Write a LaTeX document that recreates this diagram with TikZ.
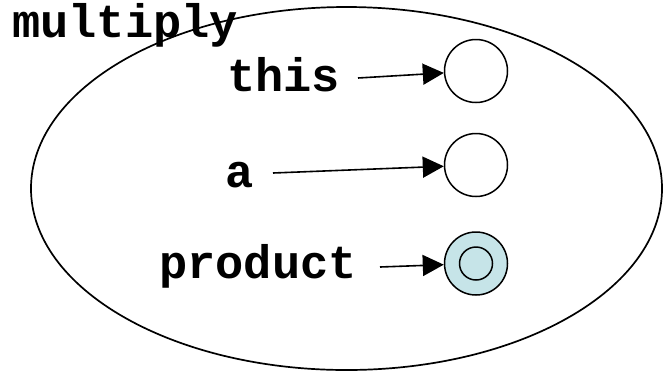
\documentclass[tikz,border=0pt]{standalone}
\usepackage{fontspec}
\setmonofont{Liberation Mono}
\usetikzlibrary{arrows.meta}
\definecolor{prodfill}{HTML}{C6E4E8}
\begin{document}
\begin{tikzpicture}[x=1pt,y=-1pt,
  lbl/.style={font=\ttfamily\bfseries\fontsize{47}{47}\selectfont, inner sep=0pt, anchor=base west},
  var/.style={circle, draw=black, line width=1.5pt, minimum size=63pt, inner sep=0pt},
  arr/.style={line width=1.6pt, -{Triangle[length=21pt,width=21pt]}}]
\useasboundingbox (0,0) rectangle (663,373);
\draw[line width=1.7pt] (346.5,188.5) ellipse [x radius=315.5, y radius=181.5];
\node[lbl] (mul) at (12,37) {multiply};
\node[lbl] (this) at (227,91) {this};
\node[lbl] (a) at (225,187) {a};
\node[lbl] (prod) at (159,278) {product};
\node[var] (cthis) at (476,71) {};
\node[var] (ca) at (476,165) {};
\node[var, fill=prodfill] (cprod) at (476,263.5) {};
\node[circle, draw=black, line width=1.5pt, minimum size=33pt, inner sep=0pt] (cin) at (cprod) {};
\coordinate (sthis) at (358,78);
\coordinate (sa) at (273,173);
\coordinate (sprod) at (380,267);
\draw[arr] (sthis) -- (cthis);
\draw[arr] (sa) -- (ca);
\draw[arr] (sprod) -- (cprod);
\end{tikzpicture}
\end{document}
